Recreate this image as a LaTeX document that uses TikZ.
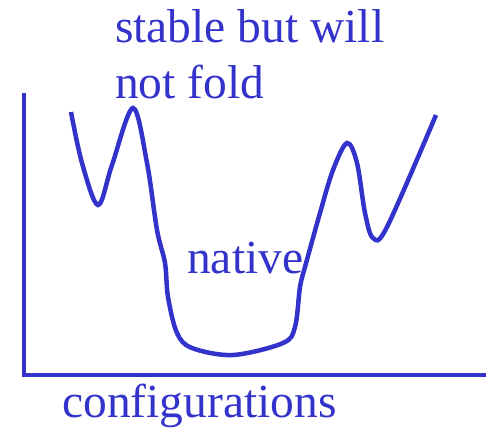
\documentclass[tikz,border=0pt]{standalone}
\usepackage{fontspec}
\setmainfont{Liberation Serif}
\definecolor{landblue}{RGB}{51,51,204}
\tikzset{
  label text/.style={anchor=base west, inner sep=0pt, text=landblue,
    font=\fontsize{47.5}{56}\selectfont},
}
\begin{document}
\begin{tikzpicture}[x=1pt,y=-1pt]
\useasboundingbox (0,0) rectangle (486,430);
% axes
\draw[landblue, line width=4pt] (24,93) -- (24,375) -- (486,375);
% energy landscape
\draw[landblue, line width=4.5pt, smooth, tension=0.55] plot coordinates {
  (71,112) (82,163) (98,205) (112,165) (133,108) (147,163) (157,230)
  (165,263) (168,297) (177,333) (192,348) (233,355) (283,343) (295,327)
  (300,287) (305,267) (320,213) (333,170) (347,143) (357,163) (365,213)
  (373,238) (387,227) (436,115)};
% labels
\node[label text] (stable) at (115,43) {stable but will};
\node[label text] (nofold) at (115,99) {not fold};
\node[label text] (native) at (187,273) {native};
\node[label text] (config) at (62,417) {configurations};
\end{tikzpicture}
\end{document}
